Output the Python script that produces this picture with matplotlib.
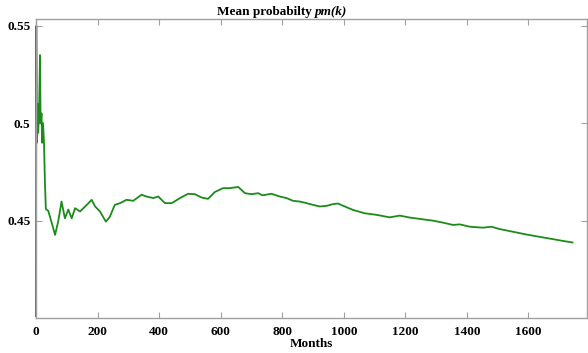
import matplotlib
matplotlib.use("Agg")
import matplotlib.pyplot as plt

# mean probability pm(k), (month, value)
months = [0, 1, 3, 5, 7, 10, 13, 15, 18, 20, 23, 26, 29, 32, 40, 50, 62, 72, 83,
          94, 105, 116, 127, 143, 165, 181, 192, 208, 227, 240, 256, 273, 294,
          316, 343, 359, 381, 397, 419, 441, 468, 494, 516, 538, 559, 581, 608,
          630, 657, 679, 700, 722, 736, 765, 792, 814, 835, 857, 879, 900, 922,
          944, 965, 981, 1003, 1030, 1068, 1106, 1149, 1182, 1214, 1247, 1290,
          1322, 1355, 1377, 1409, 1452, 1480, 1506, 1550, 1593, 1636, 1680,
          1712, 1743]
pm = [0.401, 0.550, 0.490, 0.510, 0.495, 0.505, 0.535, 0.500, 0.505, 0.490,
      0.500, 0.490, 0.470, 0.456, 0.455, 0.4495, 0.4427, 0.4495, 0.4598,
      0.4512, 0.4557, 0.4512, 0.4564, 0.4547, 0.4581, 0.4607, 0.4573, 0.4547,
      0.4495, 0.4520, 0.4581, 0.4590, 0.4607, 0.4602, 0.4633, 0.4624, 0.4616,
      0.4624, 0.4590, 0.4590, 0.4616, 0.4638, 0.4636, 0.4619, 0.4612, 0.4647,
      0.4667, 0.4667, 0.4673, 0.4641, 0.4636, 0.4641, 0.4630, 0.4638, 0.4624,
      0.4616, 0.4602, 0.4598, 0.4590, 0.4581, 0.4573, 0.4576, 0.4585, 0.4588,
      0.4573, 0.4555, 0.4538, 0.4530, 0.4517, 0.4526, 0.4516, 0.4509, 0.4500,
      0.4490, 0.4478, 0.4481, 0.4469, 0.4464, 0.4469, 0.4457, 0.4443, 0.4429,
      0.4417, 0.4405, 0.4396, 0.4388]

xticks = [0, 200, 400, 600, 800, 1000, 1200, 1400, 1600]
yticks = [0.45, 0.5, 0.55]
ylabels = ['0.45', '0.5', '0.55']

plt.rcParams['font.family'] = 'Liberation Serif'
plt.rcParams['font.weight'] = 'bold'

fig = plt.figure(figsize=(5.88, 3.53), dpi=100)
ax = fig.add_axes([0.0612, 0.099, 0.937, 0.847])

ax.plot(months, pm, color='#1a8c1a', lw=1.3, clip_on=False)

ax.set_xlim(0, 1790)
ax.set_ylim(0.4, 0.5535)
ax.set_xticks(xticks)
ax.set_yticks(yticks)
ax.set_yticklabels(ylabels)
ax.tick_params(direction='in', length=4, color='#a0a0a0', top=True, right=True,
               labelsize=9.5)
ax.tick_params(axis='x', pad=6)
ax.tick_params(axis='y', pad=4)
for s in ax.spines.values():
    s.set_color('#a0a0a0')
    s.set_linewidth(1.0)
for lab in ax.get_xticklabels() + ax.get_yticklabels():
    lab.set_fontweight('bold')

ax.set_xlabel('Months', fontsize=9.5, fontweight='bold', labelpad=0)

# title: plain bold part + bold italic part
ty = 1 - 18 / 353
t1 = fig.text(0.48, ty, 'Mean probabilty ', fontsize=9.5, fontweight='bold',
              ha='center', va='bottom')
fig.canvas.draw()
r = fig.canvas.get_renderer()
bb = t1.get_window_extent(r)
t2 = fig.text(0, ty, 'pm(k)', fontsize=9.5, fontweight='bold', style='italic',
              va='bottom')
bb2 = t2.get_window_extent(r)
W = fig.bbox.width
shift = bb2.width / 2
t1.set_x((bb.x0 - shift + bb.width / 2) / W)
t2.set_x((bb.x1 - shift) / W)

fig.savefig('out.png', dpi=100)
